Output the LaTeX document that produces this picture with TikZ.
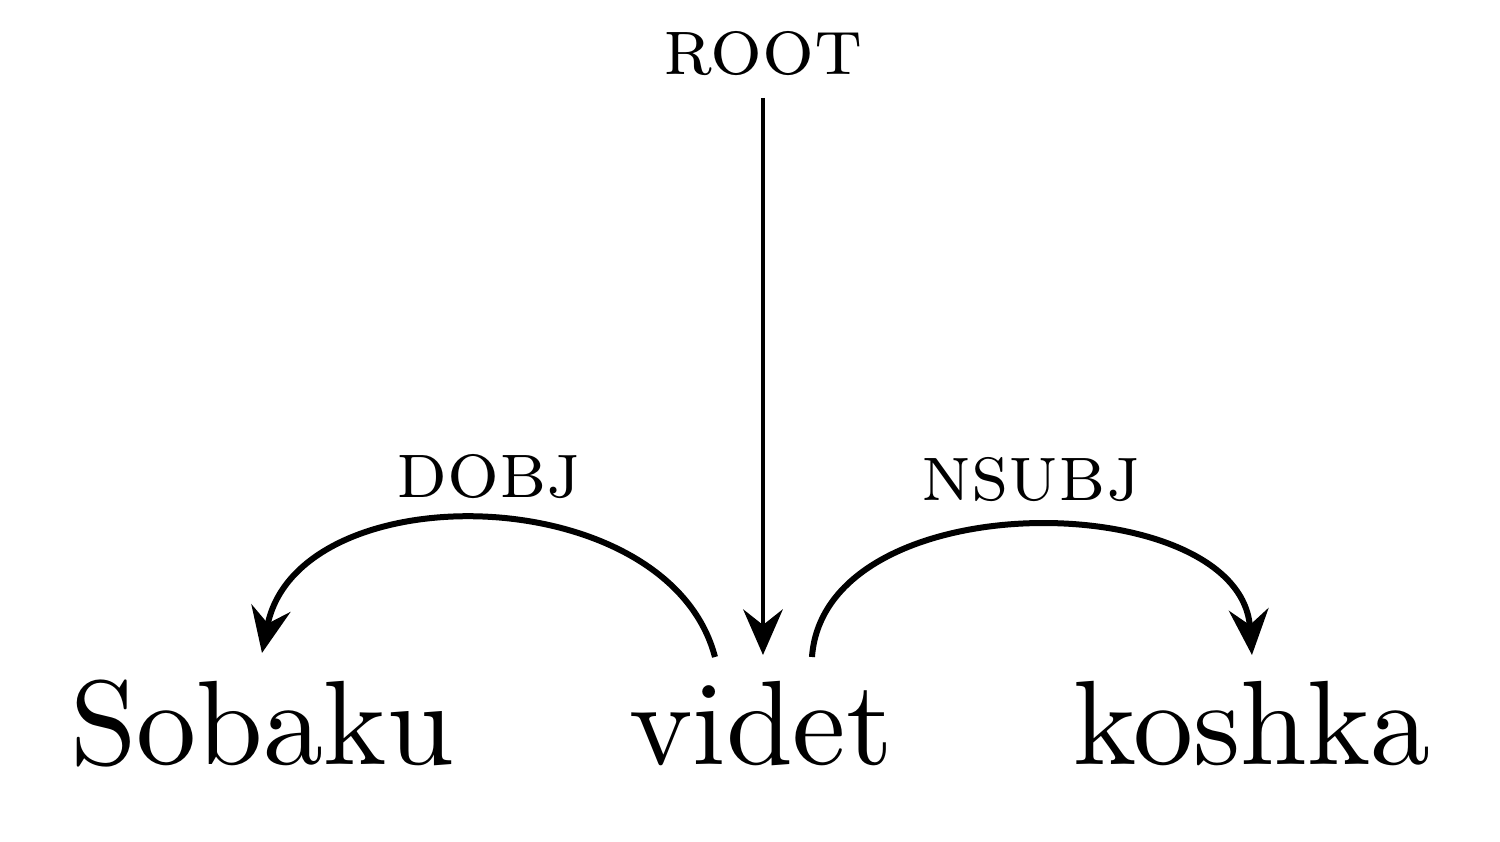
\documentclass[tikz,border=0pt]{standalone}
\usetikzlibrary{arrows.meta}
\begin{document}
\begin{tikzpicture}[x=0.08333pt,y=-0.08333pt,
  word/.style={inner sep=0pt,anchor=base,font=\fontsize{10}{12}\selectfont},
  lab/.style={inner sep=0pt,anchor=base,font=\fontsize{6.8}{8}\selectfont\scshape},
  dep/.style={line width=0.5pt,-{Stealth[length=3.8pt,width=3.3pt,inset=1.3pt]}},
  rootarr/.style={line width=0.35pt,-{Stealth[length=3.8pt,width=3.3pt,inset=1.3pt]}}]
\useasboundingbox (0,0) rectangle (1500,842);
\node[word] (w1) at (262,765) {Sobaku};
\node[word] (w2) at (761,765) {videt};
\node[word] (w3) at (1252,765) {koshka};
\node[lab] (root) at (763,75) {root};
\node[lab] (l1) at (489,498) {dobj};
\node[lab] (l2) at (1031,501) {nsubj};
\coordinate (rs) at (763,98);
\coordinate (rt) at (763,655);
\coordinate (a1s) at (715,657);
\coordinate (a1t) at (262,653);
\coordinate (a2s) at (812,657);
\coordinate (a2t) at (1252,655);
\draw[rootarr] (rs) -- (rt);
\draw[dep] (a1s) .. controls (668,478) and (298,472) .. (a1t);
\draw[dep] (a2s) .. controls (825,480) and (1240,487) .. (a2t);
\end{tikzpicture}
\end{document}
